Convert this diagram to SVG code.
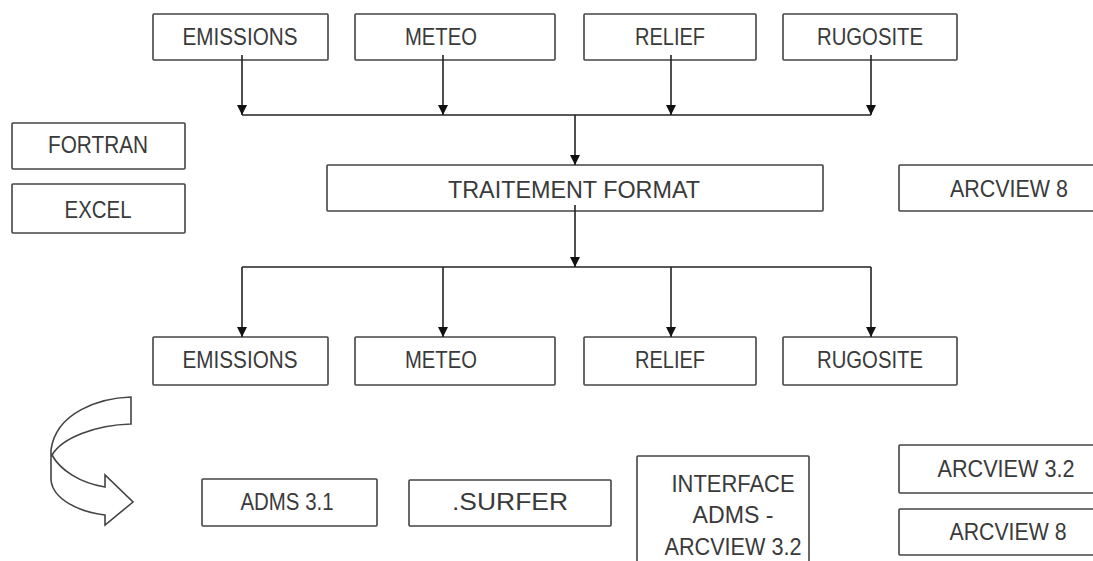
<svg xmlns="http://www.w3.org/2000/svg" width="1093" height="561" viewBox="0 0 1093 561">
<defs>
<style>
.box{fill:#fff;stroke:#444;stroke-width:1.6}
.t{font-family:"Liberation Sans",Arial,sans-serif;font-size:24px;fill:#3a3a3a;text-anchor:middle}
.c{fill:none;stroke:#222;stroke-width:1.6}
</style>
<marker id="ah" markerUnits="userSpaceOnUse" markerWidth="10" markerHeight="10" viewBox="0 0 10 10" refX="10" refY="5" orient="auto">
<path d="M0,0 L10,5 L0,10 Z" fill="#111"/>
</marker>
</defs>
<rect width="1093" height="561" fill="#fff"/>

<g id="top-emissions"><rect class="box" x="153" y="14" width="175" height="46" rx="1"/><text class="t" x="240" y="45" textLength="115" lengthAdjust="spacingAndGlyphs">EMISSIONS</text></g>
<g id="top-meteo"><rect class="box" x="355" y="14" width="200" height="46" rx="1"/><text class="t" x="441" y="45" textLength="72" lengthAdjust="spacingAndGlyphs">METEO</text></g>
<g id="top-relief"><rect class="box" x="584" y="14" width="172" height="46" rx="1"/><text class="t" x="670" y="45" textLength="70" lengthAdjust="spacingAndGlyphs">RELIEF</text></g>
<g id="top-rugosite"><rect class="box" x="783" y="14" width="174" height="46" rx="1"/><text class="t" x="870" y="45" textLength="106" lengthAdjust="spacingAndGlyphs">RUGOSITE</text></g>

<g id="fortran"><rect class="box" x="12" y="123" width="173" height="46" rx="1"/><text class="t" x="98" y="153" textLength="100" lengthAdjust="spacingAndGlyphs">FORTRAN</text></g>
<g id="excel"><rect class="box" x="12" y="184" width="173" height="49" rx="1"/><text class="t" x="98" y="218" textLength="67" lengthAdjust="spacingAndGlyphs">EXCEL</text></g>

<g id="traitement"><rect class="box" x="327" y="165" width="496" height="46" rx="1"/><text class="t" x="574" y="198" textLength="252" lengthAdjust="spacingAndGlyphs">TRAITEMENT FORMAT</text></g>
<g id="arcview8-top"><rect class="box" x="899" y="165" width="200" height="46" rx="1"/><text class="t" x="1009" y="197" textLength="118" lengthAdjust="spacingAndGlyphs">ARCVIEW 8</text></g>

<g id="bot-emissions"><rect class="box" x="153" y="337" width="175" height="48" rx="1"/><text class="t" x="240" y="368" textLength="115" lengthAdjust="spacingAndGlyphs">EMISSIONS</text></g>
<g id="bot-meteo"><rect class="box" x="355" y="337" width="200" height="48" rx="1"/><text class="t" x="441" y="368" textLength="72" lengthAdjust="spacingAndGlyphs">METEO</text></g>
<g id="bot-relief"><rect class="box" x="584" y="337" width="172" height="48" rx="1"/><text class="t" x="670" y="368" textLength="70" lengthAdjust="spacingAndGlyphs">RELIEF</text></g>
<g id="bot-rugosite"><rect class="box" x="783" y="337" width="174" height="48" rx="1"/><text class="t" x="870" y="368" textLength="106" lengthAdjust="spacingAndGlyphs">RUGOSITE</text></g>

<g id="adms"><rect class="box" x="202" y="479" width="175" height="47" rx="1"/><text class="t" x="287" y="510" textLength="93" lengthAdjust="spacingAndGlyphs">ADMS 3.1</text></g>
<g id="surfer"><rect class="box" x="409" y="480" width="202" height="46" rx="1"/><text class="t" x="510" y="510" textLength="116" lengthAdjust="spacingAndGlyphs">.SURFER</text></g>
<g id="interface"><rect class="box" x="637" y="456" width="172" height="110" rx="1"/>
<text class="t" x="733" y="492" textLength="123" lengthAdjust="spacingAndGlyphs">INTERFACE</text>
<text class="t" x="733" y="523" textLength="81" lengthAdjust="spacingAndGlyphs">ADMS -</text>
<text class="t" x="733" y="555" textLength="137" lengthAdjust="spacingAndGlyphs">ARCVIEW 3.2</text></g>
<g id="arcview32"><rect class="box" x="899" y="445" width="200" height="48" rx="1"/><text class="t" x="1006" y="477" textLength="137" lengthAdjust="spacingAndGlyphs">ARCVIEW 3.2</text></g>
<g id="arcview8-bot"><rect class="box" x="899" y="509" width="200" height="46" rx="1"/><text class="t" x="1008" y="540" textLength="117" lengthAdjust="spacingAndGlyphs">ARCVIEW 8</text></g>

<g id="connectors">
<line class="c" x1="242" y1="55" x2="242" y2="115" marker-end="url(#ah)"/>
<line class="c" x1="443" y1="55" x2="443" y2="115" marker-end="url(#ah)"/>
<line class="c" x1="671" y1="55" x2="671" y2="115" marker-end="url(#ah)"/>
<line class="c" x1="871" y1="55" x2="871" y2="115" marker-end="url(#ah)"/>
<line class="c" x1="242" y1="115" x2="871" y2="115"/>
<line class="c" x1="575" y1="115" x2="575" y2="165" marker-end="url(#ah)"/>
<line class="c" x1="575" y1="205" x2="575" y2="267" marker-end="url(#ah)"/>
<line class="c" x1="242" y1="267" x2="871" y2="267"/>
<line class="c" x1="242" y1="267" x2="242" y2="337" marker-end="url(#ah)"/>
<line class="c" x1="443" y1="267" x2="443" y2="337" marker-end="url(#ah)"/>
<line class="c" x1="671" y1="267" x2="671" y2="337" marker-end="url(#ah)"/>
<line class="c" x1="871" y1="267" x2="871" y2="337" marker-end="url(#ah)"/>
</g>

<g id="uturn-arrow">
<path d="M131,397 C100,398 56,412 51,450 L51,480 C53,500 80,512 105,515 L105,525 L133,502 L105,475 L105,487 C80,483 60,470 52,455 C62,438 95,425 131,424 Z" fill="#fff" stroke="#444" stroke-width="1.6" stroke-linejoin="miter"/>
</g>
</svg>
